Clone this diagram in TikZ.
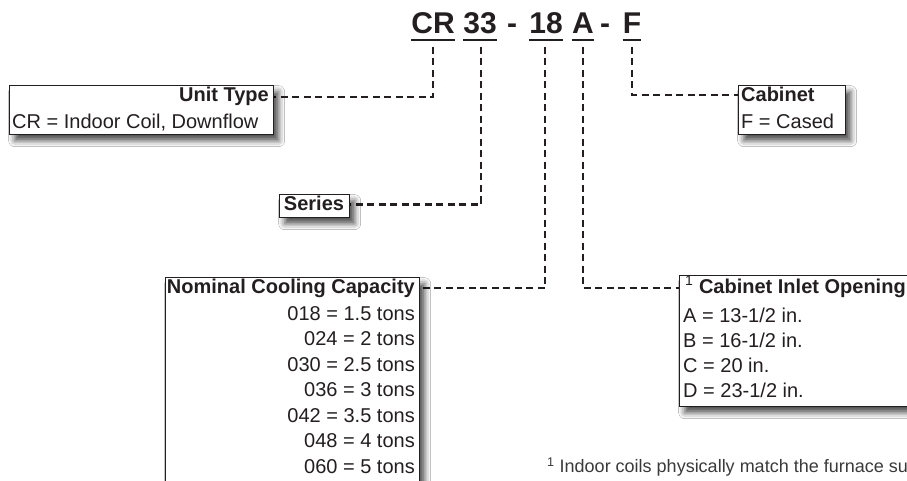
\documentclass[tikz,border=0pt]{standalone}
\usepackage{fontspec}
\setmainfont{Liberation Sans}
\usetikzlibrary{shadows.blur}
\definecolor{ink}{HTML}{231F20}
\definecolor{foot}{HTML}{3A3A3A}
\tikzset{
  conn/.style={draw=ink, line width=2.4pt, dash pattern=on 7pt off 4.5pt},
  box/.style={draw=ink, line width=1.3pt, fill=white, inner sep=0pt, anchor=north west,
    blur shadow={shadow xshift=5pt, shadow yshift=-6pt, shadow blur radius=6pt, shadow opacity=70}},
  ttl/.style={font=\fontsize{30}{34}\selectfont\bfseries, text=ink, inner sep=0pt, anchor=base},
  uline/.style={draw=ink, line width=2.6pt},
  txt/.style={font=\fontsize{20}{24}\selectfont, text=ink, inner sep=0pt},
  btxt/.style={font=\fontsize{20}{24}\selectfont\bfseries, text=ink, inner sep=0pt},
}
\begin{document}
\begin{tikzpicture}[x=1pt,y=-1pt]
\useasboundingbox (0,0) rectangle (907,481);
\clip (0,0) rectangle (907,481);
\fill[white] (0,0) rectangle (907,481);

% title segments
\node[ttl] (tCR) at (433,34) {CR};
\node[ttl] (t33) at (480,34) {33};
\node[ttl] (td1) at (512,34) {-};
\node[ttl] (t18) at (546,34) {18};
\node[ttl] (tA)  at (583,34) {A};
\node[ttl] (td2) at (605,34) {-};
\node[ttl] (tF)  at (632,34) {F};
\foreach \n in {tCR,t33,t18,tA,tF}{
  \draw[uline] ([yshift=-6pt]\n.base west) -- ([yshift=-6pt]\n.base east);
}

% connector start points
\coordinate (sCR) at (433,47);
\coordinate (s33) at (481,47);
\coordinate (s18) at (545,47);
\coordinate (sA)  at (583,47);
\coordinate (sF)  at (632,47);

% boxes (positions)
\path (9,85) coordinate (unitTL) (279,194) coordinate (serTL) (738,85) coordinate (cabTL)
      (165,277) coordinate (nomTL) (679,275) coordinate (inTL);

\draw[conn] (sCR) |- (273,97);
\draw[conn] (s33) |- (349,204.5);
\draw[conn] (s18) |- (419,288);
\draw[conn] (sA)  |- (679,288);
\draw[conn] (sF)  |- (738,95);

\node[box, minimum width=264pt, minimum height=49pt] (unit) at (unitTL) {};
\node[box, minimum width=70pt, minimum height=23pt] (series) at (serTL) {};
\node[box, minimum width=107pt, minimum height=49pt] (cab) at (cabTL) {};
\node[box, minimum width=254pt, minimum height=260pt] (nom) at (nomTL) {};
\node[box, minimum width=290pt, minimum height=131pt] (inlet) at (inTL) {};

% unit type
\node[btxt, anchor=base east] (unitH) at (269,102) {Unit Type};
\node[txt, anchor=base west] (unitL) at (12,129) {CR = Indoor Coil, Downflow};
% series
\node[btxt, anchor=base] (serH) at (314,211) {Series};
% cabinet
\node[btxt, anchor=base west] (cabH) at (741,102) {Cabinet};
\node[txt, anchor=base west] (cabL) at (741,129) {F = Cased};
% nominal
\node[btxt, anchor=base east] (nomH) at (415,293) {Nominal Cooling Capacity};
\foreach \t [count=\i from 0] in {018 = 1.5 tons, 024 = 2 tons, 030 = 2.5 tons, 036 = 3 tons, 042 = 3.5 tons, 048 = 4 tons, 060 = 5 tons}{
  \node[txt, anchor=base east] (nom\i) at (415,320+25.5*\i) {\t};
}
% inlet
\node[txt, anchor=base west] (inH) at (685,293) {\textsuperscript{1} \textbf{Cabinet Inlet Opening}};
\node[txt, anchor=base west] (inA) at (683,322.5) {A = 13-1/2 in.};
\node[txt, anchor=base west] (inB) at (683,347) {B = 16-1/2 in.};
\node[txt, anchor=base west] (inC) at (683,372) {C = 20 in.};
\node[txt, anchor=base west] (inD) at (683,397) {D = 23-1/2 in.};

% footnote (cut by the right edge, as in the reference)
\node[font=\fontsize{18}{22}\selectfont, text=foot, inner sep=0pt, anchor=base west] (fn) at (547,472.5)
  {\textsuperscript{1} Indoor coils physically match the furnace supply};
\end{tikzpicture}
\end{document}
